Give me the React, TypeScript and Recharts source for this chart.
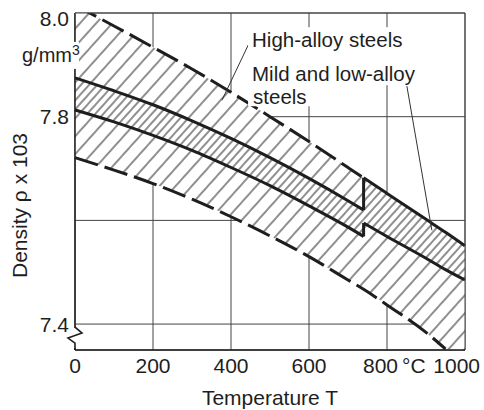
import React from "react";
import {
  ComposedChart,
  Area,
  Line,
  XAxis,
  YAxis,
  CartesianGrid,
  ReferenceLine,
  ReferenceDot,
} from "recharts";

// temperature in °C
const temps = [0, 100, 200, 300, 400, 500, 600, 700, 740, 800, 900, 950, 1000];

// high-alloy steels (dashed band)
const haUpper = [8.015, 7.975, 7.934, 7.892, 7.847, 7.8, 7.752, 7.702, 7.682, null, null, null, null];
const haLower = [7.721, 7.697, 7.671, 7.641, 7.607, 7.57, 7.53, 7.485, 7.467, 7.437, 7.384, 7.352, null];

// mild and low-alloy steels (solid band), jumps at the transformation ~740 °C
const mildUpper = [7.875, 7.85, 7.823, 7.792, 7.758, 7.721, 7.681, 7.638, 7.62, null, null, null, null];
const mildLower = [7.813, 7.79, 7.764, 7.735, 7.702, 7.667, 7.628, 7.587, 7.569, null, null, null, null];
const austUpper = [null, null, null, null, null, null, null, null, 7.682, 7.652, 7.602, 7.577, 7.551];
const austLower = [null, null, null, null, null, null, null, null, 7.595, 7.569, 7.527, 7.505, 7.485];

const xTicks = [0, 200, 400, 600, 800, 1000];
const yTicks = [7.4, 7.6, 7.8, 8.0];
const Y_MIN = 7.35;
const Y_MAX = 8.0;

// leader lines [T, rho]
const leaderHigh = [
  { x: 444, y: 7.938 },
  { x: 377, y: 7.832 },
];
const leaderMild = [
  { x: 851, y: 7.859 },
  { x: 915, y: 7.581 },
];

const JUMP = 8; // index of 740 °C

const FONT = "'Liberation Sans', Arial, Helvetica, sans-serif";
const INK = "#1e1e1e";

const data = temps.map((T, i) => ({
  T,
  haUpper: haUpper[i],
  haLower: haLower[i],
  mildUpper: mildUpper[i],
  mildLower: mildLower[i],
  austUpper: austUpper[i],
  austLower: austLower[i],
  outer: [haLower[i] ?? Y_MIN, haUpper[i] ?? austUpper[i]],
  mildBand: mildUpper[i] != null ? [mildLower[i], mildUpper[i]] : null,
  austBand: austUpper[i] != null ? [austLower[i], austUpper[i]] : null,
}));

const YTick = ({ x, y, payload }: any) => {
  if (payload.value === 7.6) return null; // not labelled in the original
  const shift = payload.value === 8 ? 5 : 0;
  return (
    <text x={x} y={y + shift} dy="0.36em" textAnchor="end" fontSize={21} fontFamily={FONT} fill={INK}>
      {payload.value.toFixed(1)}
    </text>
  );
};

const XTick = ({ x, y, payload }: any) => {
  const v = payload.value;
  if (v === 800) {
    return (
      <g fontSize={21} fontFamily={FONT} fill={INK}>
        <text x={x + 11} y={y} dy="0.71em" textAnchor="end">800</text>
        <text x={x + 15} y={y} dy="0.71em" textAnchor="start">°C</text>
      </g>
    );
  }
  if (v === 1000) {
    return (
      <text x={x + 15} y={y} dy="0.71em" textAnchor="end" fontSize={21} fontFamily={FONT} fill={INK}>
        1000
      </text>
    );
  }
  return (
    <text x={x} y={y} dy="0.71em" textAnchor="middle" fontSize={21} fontFamily={FONT} fill={INK}>
      {v}
    </text>
  );
};

const UnitLabel = ({ cx, cy }: any) => (
  <g>
    <rect x={cx - 56} y={cy - 10} width={60} height={27} fill="#fff" />
    <text x={cx - 53} y={cy + 10} fontSize={20} fontFamily={FONT} fill={INK}>
      g/mm<tspan dy={-7} fontSize={14}>3</tspan>
    </text>
  </g>
);

const SteelLabels = ({ cx, cy }: any) => (
  <g fontSize={20.5} fontFamily={FONT} fill={INK}>
    <rect x={cx - 4} y={cy - 20} width={184} height={58} fill="#fff" />
    <rect x={cx - 4} y={cy + 36} width={62} height={23} fill="#fff" />
    <text x={cx} y={cy}>High-alloy steels</text>
    <text x={cx} y={cy + 34}>Mild and low-alloy</text>
    <text x={cx + 1} y={cy + 57}>steels</text>
  </g>
);

const AxisBreak = ({ cx, cy }: any) => (
  <g>
    <rect x={cx - 9} y={cy - 9} width={18} height={20} fill="#fff" />
    <path
      d={`M${cx},${cy - 10} L${cx + 7},${cy - 4} L${cx - 7},${cy + 1} L${cx},${cy + 6} L${cx},${cy + 13}`}
      fill="none"
      stroke={INK}
      strokeWidth={1.6}
    />
  </g>
);

export default function App() {
  return (
    <div style={{ position: "absolute", left: 0, top: 0, background: "#fff" }}>
      <ComposedChart width={484} height={410} data={data} margin={{ top: 13, right: 19, bottom: 0, left: 0 }}>
        <defs>
          <pattern id="hatch" patternUnits="userSpaceOnUse" width={12} height={12} patternTransform="rotate(42)">
            <rect width={12} height={12} fill="#fff" />
            <line x1={3} y1={0} x2={3} y2={12} stroke="#333" strokeWidth={1.1} />
          </pattern>
          <pattern id="hatchDense" patternUnits="userSpaceOnUse" width={12} height={12} patternTransform="rotate(42)">
            <line x1={9} y1={0} x2={9} y2={12} stroke="#333" strokeWidth={1.1} />
          </pattern>
        </defs>
        <CartesianGrid stroke="#444" strokeWidth={1} />
        <XAxis
          dataKey="T"
          type="number"
          domain={[0, 1000]}
          ticks={xTicks}
          tick={<XTick />}
          tickLine={false}
          axisLine={{ stroke: INK, strokeWidth: 1.5 }}
          height={60}
          label={{ value: "Temperature T", position: "insideBottom", offset: 5, fontSize: 21, fontFamily: FONT, fill: INK }}
        />
        <YAxis
          type="number"
          domain={[Y_MIN, Y_MAX]}
          allowDataOverflow
          ticks={yTicks}
          tick={<YTick />}
          tickLine={false}
          tickSize={6}
          tickMargin={0}
          axisLine={false}
          width={75}
          label={{
            content: ({ viewBox }: any) => (
              <text
                transform={`translate(${viewBox.x + 27},${viewBox.y + viewBox.height / 2 + 24}) rotate(-90)`}
                textAnchor="middle"
                fontSize={21}
                fontFamily={FONT}
                fill={INK}
              >
                Density ρ x 103
              </text>
            ),
          }}
        />

        <Area type="monotone" dataKey="outer" stroke="none" fill="url(#hatch)" fillOpacity={1} isAnimationActive={false} activeDot={false} />
        <Area type="monotone" dataKey="mildBand" stroke="none" fill="url(#hatchDense)" fillOpacity={1} isAnimationActive={false} activeDot={false} />
        <Area type="monotone" dataKey="austBand" stroke="none" fill="url(#hatchDense)" fillOpacity={1} isAnimationActive={false} activeDot={false} />

        <Line type="monotone" dataKey="haUpper" stroke={INK} strokeWidth={3} strokeDasharray="24 7" dot={false} activeDot={false} isAnimationActive={false} />
        <Line type="monotone" dataKey="haLower" stroke={INK} strokeWidth={3} strokeDasharray="24 7" dot={false} activeDot={false} isAnimationActive={false} />
        <Line type="monotone" dataKey="mildUpper" stroke={INK} strokeWidth={3} dot={false} activeDot={false} isAnimationActive={false} />
        <Line type="monotone" dataKey="mildLower" stroke={INK} strokeWidth={3} dot={false} activeDot={false} isAnimationActive={false} />
        <Line type="monotone" dataKey="austUpper" stroke={INK} strokeWidth={3} dot={false} activeDot={false} isAnimationActive={false} />
        <Line type="monotone" dataKey="austLower" stroke={INK} strokeWidth={3} dot={false} activeDot={false} isAnimationActive={false} />

        {/* jumps at the transformation temperature */}
        <ReferenceLine
          segment={[
            { x: temps[JUMP], y: mildUpper[JUMP] },
            { x: temps[JUMP], y: austUpper[JUMP] },
          ]}
          stroke={INK}
          strokeWidth={3}
        />
        <ReferenceLine
          segment={[
            { x: temps[JUMP], y: mildLower[JUMP] },
            { x: temps[JUMP], y: austLower[JUMP] },
          ]}
          stroke={INK}
          strokeWidth={3}
        />

        {/* frame */}
        <ReferenceLine x={0} stroke={INK} strokeWidth={1.5} />
        <ReferenceLine x={1000} stroke="#444" strokeWidth={1} />
        <ReferenceLine y={Y_MAX} stroke="#444" strokeWidth={1} />

        <ReferenceLine segment={leaderHigh} stroke="#333" strokeWidth={1} />
        <ReferenceLine segment={leaderMild} stroke="#333" strokeWidth={1} />

        <ReferenceDot x={0} y={7.925} r={0} shape={<UnitLabel />} />
        <ReferenceDot x={454} y={7.934} r={0} shape={<SteelLabels />} />
        <ReferenceDot x={0} y={7.375} r={0} shape={<AxisBreak />} />
      </ComposedChart>
    </div>
  );
}
